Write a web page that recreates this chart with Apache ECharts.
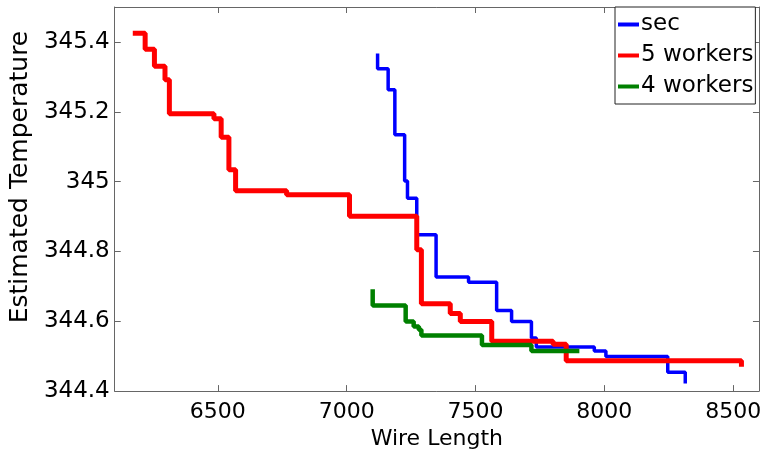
<!DOCTYPE html>
<html>
<head>
<meta charset="utf-8">
<script src="https://cdn.jsdelivr.net/npm/echarts@6/dist/echarts.min.js"></script>
<style>
html, body { margin: 0; padding: 0; background: #fff; }
#chart { width: 764px; height: 455px; }
</style>
</head>
<body>
<div id="chart"></div>
<script>
var seriesNames = ['sec', '5 workers', '4 workers'];
// [wire length, estimated temperature], drawn as stairs
var secData = [[7120,345.367],[7120,345.323],[7161,345.263],[7187,345.134],[7225,345.002],[7236,344.952],
    [7272,344.848],[7347,344.727],[7473,344.712],[7582,344.631],[7640,344.599],[7717,344.552],[7736,344.526],
    [7961,344.515],[8006,344.499],[8246,344.454],[8314,344.422]];
var fiveWorkers = [[6170,345.425],[6218,345.379],[6254,345.330],[6295,345.292],[6312,345.194],[6485,345.180],
    [6513,345.127],[6543,345.034],[6569,344.974],[6767,344.962],[7011,344.901],[7272,344.805],[7290,344.650],
    [7402,344.622],[7441,344.599],[7563,344.543],[7801,344.534],[7852,344.487],[8532,344.470]];
var fourWorkers = [[7101,344.692],[7101,344.645],[7229,344.599],[7260,344.585],[7280,344.576],[7290,344.559],
    [7525,344.532],[7717,344.515],[7903,344.515]];
var xTicks = [6500, 7000, 7500, 8000, 8500];
var yTicks = [344.4, 344.6, 344.8, 345, 345.2, 345.4];

var chart = echarts.init(document.getElementById('chart'));
var font = 'DejaVu Sans';
var frameColor = '#666';

function frameAxis(extra) {
    var a = {
        type: 'value',
        axisLine: { show: true, onZero: false, lineStyle: { color: frameColor, width: 1 } },
        axisTick: { show: true, inside: true, length: 6, lineStyle: { color: frameColor } },
        splitLine: { show: false }
    };
    for (var k in extra) a[k] = extra[k];
    return a;
}

var option = {
    animation: false,
    grid: { left: 110, right: 4, top: 7, bottom: 53 },
    xAxis: [
        frameAxis({
            position: 'bottom', min: 6100, max: 8600,
            name: 'Wire Length', nameLocation: 'middle', nameGap: 27,
            nameTextStyle: { fontFamily: font, fontSize: 22, color: '#000' },
            axisTick: { show: true, inside: true, length: 6, customValues: xTicks, lineStyle: { color: frameColor } },
            axisLabel: { customValues: xTicks, margin: 10, fontFamily: font, fontSize: 22, color: '#000',
                formatter: function (v) { return String(v); } }
        }),
        frameAxis({
            position: 'top', min: 6100, max: 8600,
            axisTick: { show: true, inside: true, length: 6, customValues: xTicks, lineStyle: { color: frameColor } },
            axisLabel: { show: false }
        })
    ],
    yAxis: [
        frameAxis({
            position: 'left', min: 344.4, max: 345.5,
            name: 'Estimated Temperature', nameLocation: 'middle', nameGap: 75, nameRotate: 90,
            nameTextStyle: { fontFamily: font, fontSize: 25, color: '#000', padding: [0, 0, 0, 44] },
            axisTick: { show: true, inside: true, length: 6, customValues: yTicks, lineStyle: { color: frameColor } },
            axisLabel: { customValues: yTicks, margin: 5, fontFamily: font, fontSize: 23, color: '#000',
                formatter: function (v) { return String(Math.round(v * 10) / 10); } }
        }),
        frameAxis({
            position: 'right', min: 344.4, max: 345.5,
            axisTick: { show: true, inside: true, length: 6, customValues: yTicks, lineStyle: { color: frameColor } },
            axisLabel: { show: false }
        })
    ],
    legend: {
        data: seriesNames,
        orient: 'vertical',
        left: 615,
        top: 7,
        padding: [6, 2, 6, 3],
        itemGap: 8,
        itemWidth: 21,
        itemHeight: 4,
        icon: 'rect',
        borderColor: '#222',
        borderWidth: 1,
        backgroundColor: '#fff',
        textStyle: { fontFamily: font, fontSize: 23, color: '#000', padding: [0, 0, 0, -3] }
    },
    series: [
        {
            name: seriesNames[0], type: 'line', step: 'end', data: secData,
            showSymbol: false, symbol: 'none',
            lineStyle: { color: '#0000ff', width: 3.5 }, itemStyle: { color: '#0000ff' }
        },
        {
            name: seriesNames[1], type: 'line', step: 'end', data: fiveWorkers,
            showSymbol: false, symbol: 'none',
            lineStyle: { color: '#ff0000', width: 5 }, itemStyle: { color: '#ff0000' }
        },
        {
            name: seriesNames[2], type: 'line', step: 'end', data: fourWorkers,
            showSymbol: false, symbol: 'none',
            lineStyle: { color: '#008000', width: 4.5 }, itemStyle: { color: '#008000' }
        }
    ]
};
chart.setOption(option);
</script>
</body>
</html>
